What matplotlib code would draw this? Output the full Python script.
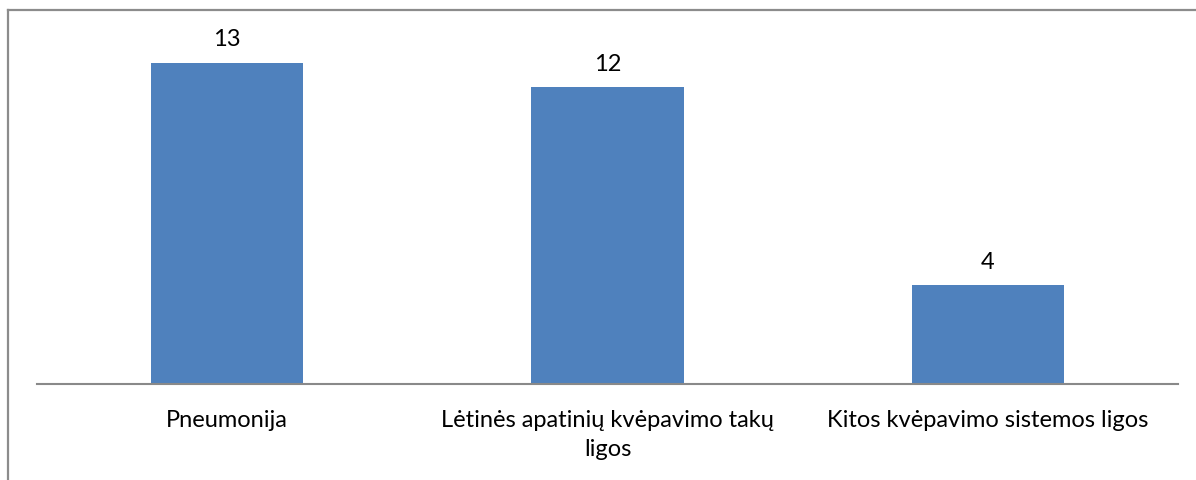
import matplotlib.pyplot as plt

categories = ["Pneumonija", "Lėtinės apatinių kvėpavimo takų\nligos", "Kitos kvėpavimo sistemos ligos"]
values = [13, 12, 4]

W, H = 1196, 480
fig = plt.figure(figsize=(W / 100, H / 100), dpi=100)
plt.rcParams['font.family'] = ['Lato', 'DejaVu Sans']

# axes: x from 37 to 1178 px, baseline at y=384, 14 units up to y=38
ax = fig.add_axes([37 / W, (H - 384) / H, (1178 - 37) / W, (384 - 38) / H])
x = range(len(values))
bars = ax.bar(x, values, width=0.4, color="#4f81bd")
ax.set_xlim(-0.5, 2.5)
ax.set_ylim(0, 14)

for xi, v in zip(x, values):
    ax.text(xi, v + 0.5, str(v), ha="center", va="bottom", fontsize=17, color="black")

ax.set_xticks(list(x))
ax.set_xticklabels(categories, fontsize=17, linespacing=1.45, va="top")
ax.tick_params(axis="x", length=0, pad=19)
ax.set_yticks([])
for s in ["top", "right", "left"]:
    ax.spines[s].set_visible(False)
ax.spines["bottom"].set_color("#898989")
ax.spines["bottom"].set_linewidth(1.5)

# outer chart border (only left and top visible in the crop)
fig.add_artist(plt.Line2D([7.5 / W, 7.5 / W], [0, (H - 9.5) / H], color="#8c8c8c", lw=1.6))
fig.add_artist(plt.Line2D([7.5 / W, 1], [(H - 9.5) / H, (H - 9.5) / H], color="#8c8c8c", lw=1.6))

fig.savefig("out.png", dpi=100)
